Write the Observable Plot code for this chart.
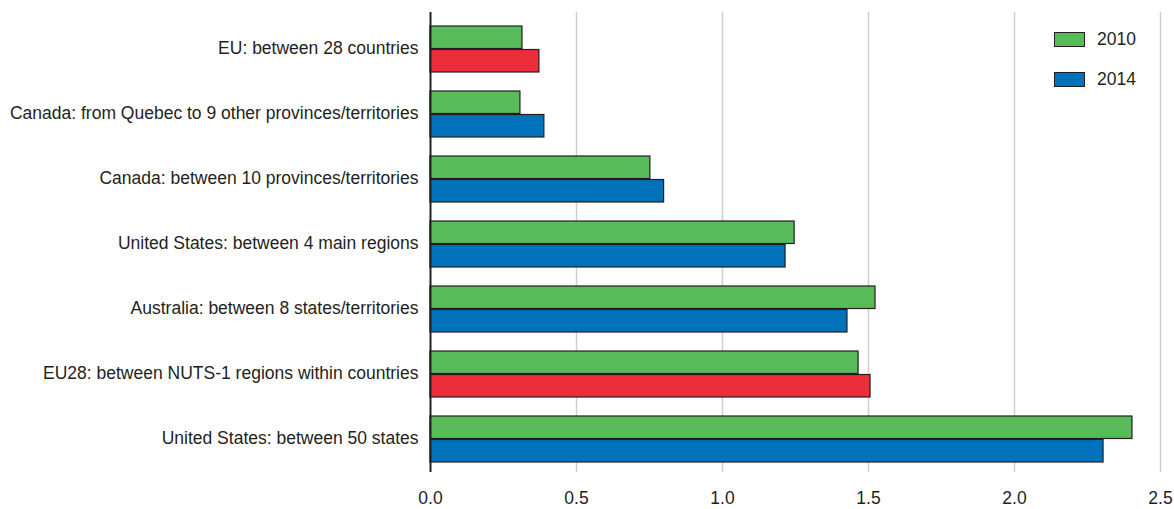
<!DOCTYPE html>
<html>
<head>
<meta charset="utf-8">
<script src="https://cdn.jsdelivr.net/npm/d3@7"></script>
<script src="https://cdn.jsdelivr.net/npm/@observablehq/plot@0.6"></script>
<style>
  body { margin: 0; background: #fff; }
  #wrap { position: relative; width: 1174px; height: 509px; font-family: "Liberation Sans", Arial, sans-serif; }
  .legend { position: absolute; left: 1054px; font-size: 17.5px; color: #231f20; display: flex; align-items: center; }
  .sw { width: 29px; height: 13px; border: 1px solid #231f20; margin-right: 12px; }
</style>
</head>
<body>
<div id="wrap"></div>
<script>
const categories = [
  "EU: between 28 countries",
  "Canada: from Quebec to 9 other provinces/territories",
  "Canada: between 10 provinces/territories",
  "United States: between 4 main regions",
  "Australia: between 8 states/territories",
  "EU28: between NUTS-1 regions within countries",
  "United States: between 50 states"
];
const values2010 = [0.315, 0.308, 0.753, 1.247, 1.524, 1.466, 2.404];
const values2014 = [0.373, 0.390, 0.800, 1.216, 1.428, 1.507, 2.305];
const euCategories = ["EU: between 28 countries", "EU28: between NUTS-1 regions within countries"];
const xTicks = [0, 0.5, 1.0, 1.5, 2.0, 2.5];
const seriesNames = ["2010", "2014"];

const green = "#57bb5a", blue = "#0072bb", red = "#ee2d3a", edge = "#231f20";

const rows2010 = categories.map((c, i) => ({category: c, value: values2010[i]}));
const rows2014 = categories.map((c, i) => ({category: c, value: values2014[i], eu: euCategories.includes(c)}));

const half = 23.5;

const chart = Plot.plot({
  width: 1174,
  height: 509,
  marginLeft: 430,
  marginRight: 14,
  marginTop: 12,
  marginBottom: 37,
  style: {fontFamily: "'Liberation Sans', Arial, sans-serif", fontSize: "17.5px", color: "#231f20", background: "white"},
  x: {domain: [0, 2.5], label: null},
  y: {domain: categories, paddingInner: 0.288, paddingOuter: 0.129, align: 0.6, label: null},
  marks: [
    Plot.ruleX(xTicks.filter(d => d > 0), {stroke: "#cfcfcf", strokeWidth: 1.5}),
    Plot.barX(rows2010, {x: "value", y: "category", fill: green, stroke: edge, strokeWidth: 1.2, insetBottom: half}),
    Plot.barX(rows2014, {x: "value", y: "category", fill: d => d.eu ? red : blue, stroke: edge, strokeWidth: 1.2, insetTop: half}),
    Plot.ruleX([0], {stroke: edge, strokeWidth: 2}),
    Plot.axisX({ticks: xTicks, tickFormat: d3.format(".1f"), tickSize: 0, tickPadding: 19, fontSize: 17.5, label: null}),
    Plot.axisY({tickSize: 0, tickPadding: 12, fontSize: 17.5, label: null, dy: -1})
  ]
});

const wrap = document.getElementById("wrap");
wrap.appendChild(chart);
const legendColors = [green, blue];
seriesNames.forEach((s, i) => {
  const d = document.createElement("div");
  d.className = "legend";
  d.style.top = (29 + i * 40) + "px";
  d.innerHTML = `<span class="sw" style="background:${legendColors[i]}"></span><span>${s}</span>`;
  wrap.appendChild(d);
});
</script>
</body>
</html>
